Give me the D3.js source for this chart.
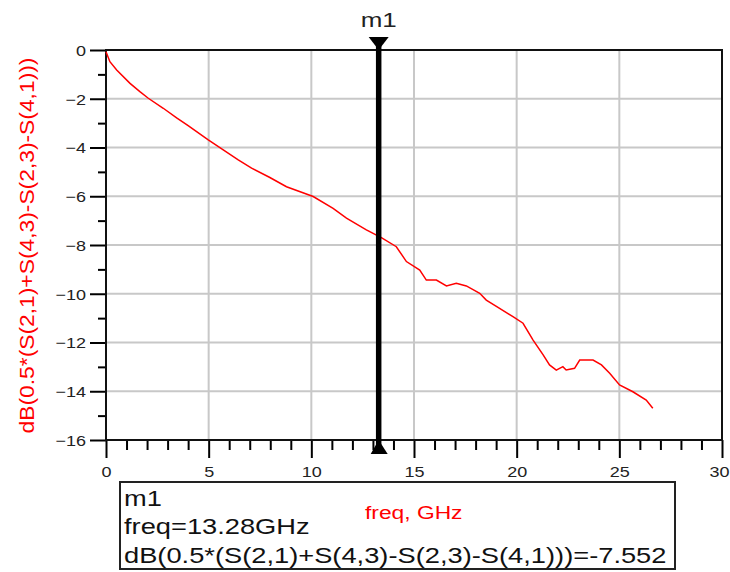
<!DOCTYPE html>
<html>
<head>
<meta charset="utf-8">
<script src="https://cdn.jsdelivr.net/npm/d3@7"></script>
<style>
  body { margin: 0; background: #fff; }
  svg { font-family: "Liberation Sans", Arial, sans-serif; }
</style>
</head>
<body>
<div id="chart"></div>
<script>
// trace
var freq = [0, 0.19, 0.52, 1.17, 1.65, 2.06, 2.79, 3.44, 4.0, 4.98, 5.71, 6.44, 7.09, 7.98, 8.79,
    10.09, 11.06, 11.71, 12.68, 13.41, 14.14, 14.63, 15.28, 15.6, 16.09, 16.58, 17.06, 17.55,
    18.2, 18.52, 19.09, 19.82, 20.31, 20.8, 21.29, 21.6, 21.93, 22.25, 22.41, 22.82, 23.07,
    23.72, 24.13, 24.53, 25.01, 25.66, 26.31, 26.63];
var dbVal = [-0.07, -0.48, -0.82, -1.37, -1.71, -1.98, -2.39, -2.78, -3.1, -3.69, -4.10, -4.51, -4.85, -5.23, -5.61,
    -6.01, -6.5, -6.9, -7.38, -7.7, -8.07, -8.68, -9.03, -9.44, -9.44, -9.68, -9.57, -9.68,
    -9.98, -10.26, -10.56, -10.94, -11.21, -11.9, -12.51, -12.92, -13.13, -12.99, -13.13, -13.06, -12.72,
    -12.72, -12.92, -13.26, -13.74, -14.02, -14.36, -14.7];

var xTicks = [0, 5, 10, 15, 20, 25, 30];
var yTicks = [0, -2, -4, -6, -8, -10, -12, -14, -16];
var markerName = "m1";
var markerFreq = 13.28;
var markerValue = -7.552;
var traceName = "dB(0.5*(S(2,1)+S(4,3)-S(2,3)-S(4,1)))";

var width = 730, height = 572;
var x = d3.scaleLinear().domain([0, 30]).range([106, 722]);
var y = d3.scaleLinear().domain([-16, 0]).range([440, 50]);

var svg = d3.select("#chart").append("svg")
    .attr("width", width)
    .attr("height", height);

// grid
svg.append("g").selectAll("line.gx")
    .data(xTicks.slice(1, -1))
    .enter().append("line")
    .attr("x1", function (d) { return x(d); })
    .attr("x2", function (d) { return x(d); })
    .attr("y1", y(0)).attr("y2", y(-16))
    .attr("stroke", "#c8c8c8").attr("stroke-width", 2);
svg.append("g").selectAll("line.gy")
    .data(yTicks.slice(1, -1))
    .enter().append("line")
    .attr("y1", function (d) { return y(d); })
    .attr("y2", function (d) { return y(d); })
    .attr("x1", x(0)).attr("x2", x(30))
    .attr("stroke", "#c8c8c8").attr("stroke-width", 2);

// minor ticks
var xMinor = d3.range(0, 31).filter(function (d) { return d % 5 !== 0; });
var yMinor = d3.range(-15, 0, 2);
svg.append("g")
    .attr("transform", "translate(0," + y(-16) + ")")
    .call(d3.axisBottom(x).tickValues(xMinor).tickSize(10).tickFormat(""))
    .call(function (g) { g.select(".domain").remove(); })
    .selectAll("line").attr("stroke-width", 2);
svg.append("g")
    .attr("transform", "translate(" + x(0) + ",0)")
    .call(d3.axisLeft(y).tickValues(yMinor).tickSize(8).tickFormat(""))
    .call(function (g) { g.select(".domain").remove(); })
    .selectAll("line").attr("stroke-width", 2);

// major ticks with labels
var xAxis = svg.append("g")
    .attr("transform", "translate(0," + y(-16) + ")")
    .call(d3.axisBottom(x).tickValues(xTicks).tickSize(18));
xAxis.select(".domain").remove();
xAxis.selectAll("line").attr("stroke-width", 2);
xAxis.selectAll("text")
    .attr("y", 37).attr("dy", 0)
    .attr("transform", "scale(1.2,1)")
    .style("font-size", "15px").attr("fill", "#222");
// last label sits at the window edge, keep it inside
xAxis.selectAll("text")
    .filter(function (d) { return d === 30; })
    .attr("text-anchor", "end")
    .attr("x", 7 / 1.2);

var yAxis = svg.append("g")
    .attr("transform", "translate(" + x(0) + ",0)")
    .call(d3.axisLeft(y).tickValues(yTicks).tickSize(16));
yAxis.select(".domain").remove();
yAxis.selectAll("line").attr("stroke-width", 2);
yAxis.selectAll("text")
    .attr("x", -20 / 1.2).attr("dy", "0.36em")
    .attr("transform", "scale(1.2,1)")
    .style("font-size", "15px").attr("fill", "#222");

// frame
svg.append("rect")
    .attr("x", x(0)).attr("y", y(0))
    .attr("width", x(30) - x(0)).attr("height", y(-16) - y(0))
    .attr("fill", "none").attr("stroke", "#111").attr("stroke-width", 2);

// trace
var line = d3.line()
    .x(function (d, i) { return x(freq[i]); })
    .y(function (d) { return y(d); });
svg.append("path")
    .datum(dbVal)
    .attr("d", line)
    .attr("fill", "none")
    .attr("stroke", "#ff0000")
    .attr("stroke-width", 1.5);

// marker
var mx = x(markerFreq);
svg.append("line")
    .attr("x1", mx).attr("x2", mx)
    .attr("y1", 38).attr("y2", 452)
    .attr("stroke", "#000").attr("stroke-width", 5.5);
svg.append("path")
    .attr("d", "M" + (mx - 10) + ",37L" + (mx + 10) + ",37L" + mx + ",50Z")
    .attr("fill", "#000");
svg.append("path")
    .attr("d", "M" + (mx - 8) + ",454L" + (mx + 9) + ",454L" + mx + ",440Z")
    .attr("fill", "#000");
svg.append("g")
    .attr("transform", "translate(" + mx + ",27)")
    .append("text")
    .attr("transform", "scale(1.3,1)")
    .attr("text-anchor", "middle")
    .style("font-size", "20px")
    .attr("fill", "#222")
    .text(markerName);

// y axis title
svg.append("g")
    .attr("transform", "translate(34,245.5) rotate(-90)")
    .append("text")
    .attr("transform", "scale(1.17,1)")
    .attr("text-anchor", "middle")
    .style("font-size", "19.5px")
    .attr("fill", "#ff0000")
    .text(traceName);

// marker readout box
svg.append("rect")
    .attr("x", 120).attr("y", 482)
    .attr("width", 555).attr("height", 87)
    .attr("fill", "#fff").attr("stroke", "#222").attr("stroke-width", 2);
var lines = [markerName, "freq=" + markerFreq + "GHz", traceName + "=" + markerValue];
svg.append("g").selectAll("g")
    .data(lines)
    .enter().append("g")
    .attr("transform", function (d, i) { return "translate(124," + (505.5 + i * 28.7) + ")"; })
    .append("text")
    .attr("transform", "scale(1.24,1)")
    .style("font-size", "22px")
    .attr("fill", "#111")
    .text(function (d) { return d; });

// x axis title
svg.append("g")
    .attr("transform", "translate(365,519)")
    .append("text")
    .attr("transform", "scale(1.2,1)")
    .style("font-size", "19px")
    .attr("fill", "#ff0000")
    .text("freq, GHz");
</script>
</body>
</html>
